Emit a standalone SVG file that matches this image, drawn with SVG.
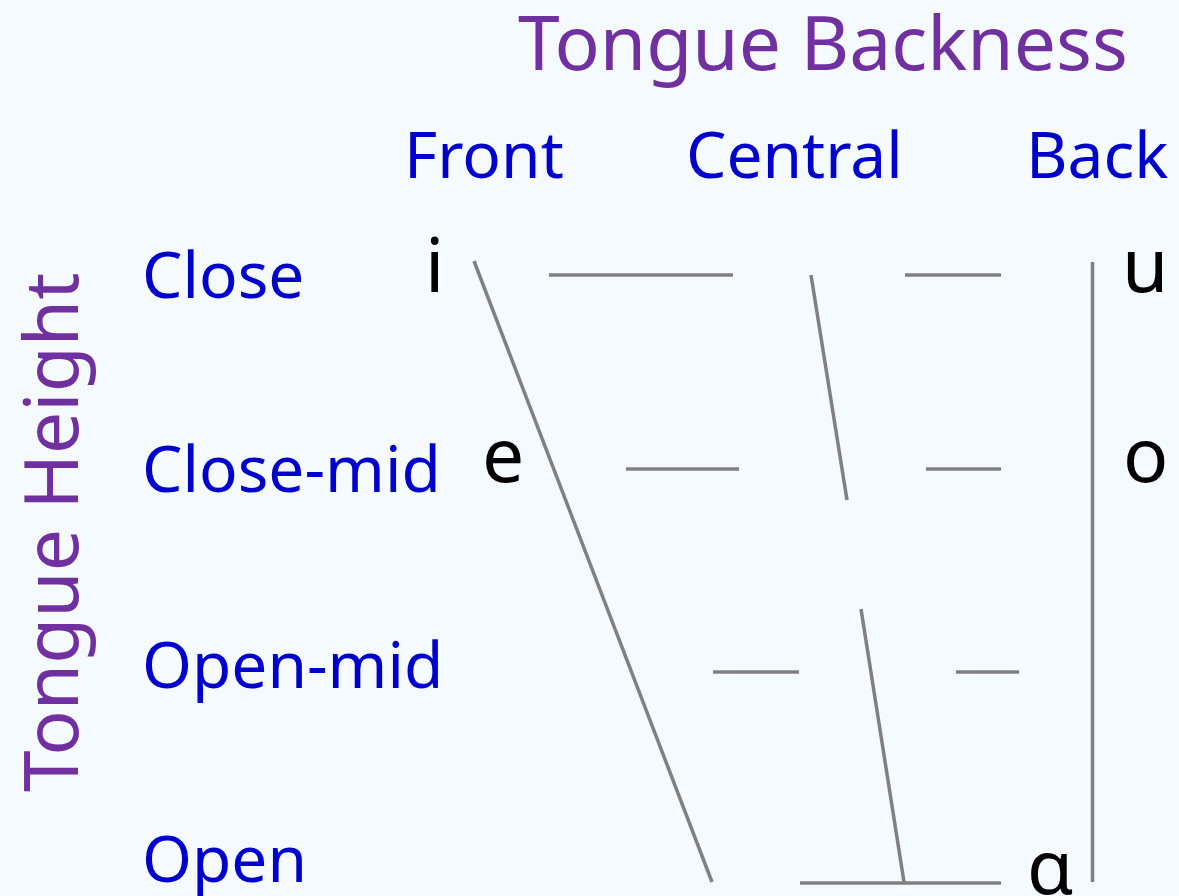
<svg xmlns="http://www.w3.org/2000/svg" width="1179" height="896" viewBox="0 0 1179 896">
<style>
.ax{font-family:"Noto Sans","Open Sans",sans-serif;fill:#7030a0;font-size:75px}
.lb{font-family:"Noto Sans","Open Sans",sans-serif;fill:#0000cc;font-size:64px}
.v{font-family:"Noto Sans","Open Sans",sans-serif;fill:#000;font-size:75px}
.ln line{stroke:#808080;stroke-width:3.5}
</style>
<rect width="1179" height="896" fill="#f5faff"/>
<g id="title-backness"><text class="ax" x="518" y="70">Tongue Backness</text></g>
<g id="title-height"><text class="ax" transform="translate(78,792) rotate(-90)">Tongue Height</text></g>
<g id="col-front"><text class="lb" x="404" y="178">Front</text></g>
<g id="col-central"><text class="lb" x="686" y="178">Central</text></g>
<g id="col-back"><text class="lb" x="1026" y="178">Back</text></g>
<g id="row-close"><text class="lb" x="142" y="298">Close</text></g>
<g id="row-closemid"><text class="lb" x="142" y="492">Close-mid</text></g>
<g id="row-openmid"><text class="lb" x="142" y="688">Open-mid</text></g>
<g id="row-open"><text class="lb" x="142" y="882">Open</text></g>
<g id="v-i"><text class="v" x="425" y="292">i</text></g>
<g id="v-e"><text class="v" x="482" y="482">e</text></g>
<g id="v-u"><text class="v" x="1122" y="292">u</text></g>
<g id="v-o"><text class="v" x="1123" y="482">o</text></g>
<g id="v-a"><text class="v" x="1027" y="894">ɑ</text></g>
<g id="connectors" class="ln">
<line x1="474" y1="261" x2="712" y2="882"/>
<line x1="549" y1="275" x2="733" y2="275"/>
<line x1="811" y1="275" x2="847" y2="500"/>
<line x1="905" y1="275" x2="1001" y2="275"/>
<line x1="1092.5" y1="262" x2="1092.5" y2="882"/>
<line x1="626" y1="469" x2="739" y2="469"/>
<line x1="926" y1="469" x2="1001" y2="469"/>
<line x1="713" y1="672" x2="799" y2="672"/>
<line x1="956" y1="672" x2="1019" y2="672"/>
<line x1="861" y1="609" x2="904" y2="882"/>
<line x1="800" y1="883" x2="1001" y2="883"/>
</g>
</svg>
